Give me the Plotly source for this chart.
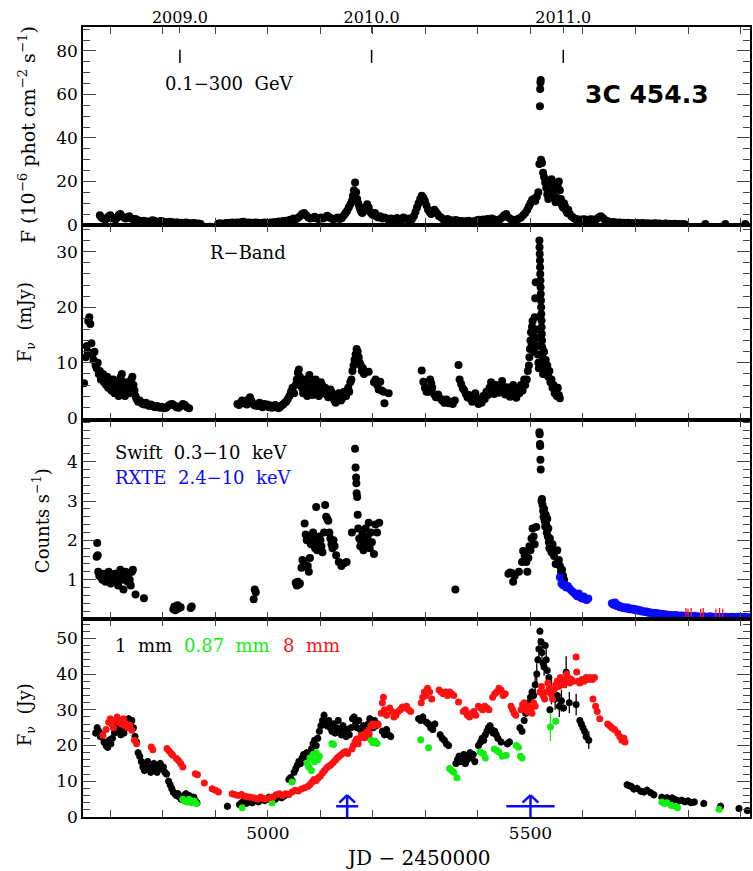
import plotly.graph_objects as go

# ---------------- data ----------------
# x-axis ticks (JD - 2450000)
x_major_tick0 = 5000
x_major_step = 500
x_minor_step = 100
year_jd = [4832.5, 5197.5, 5562.5]
year_labels = ["2009.0", "2010.0", "2011.0"]

# Panel 1: Fermi 0.1-300 GeV flux (1e-6 phot cm-2 s-1)
gam_jd = [4680, 4683, 4686, 4690, 4694, 4697, 4700, 4703, 4706, 4710, 4713, 4716, 4719, 4722, 4726, 4729, 4733, 4736,
          4740, 4744, 4748, 4752, 4756, 4760, 4764, 4768, 4772, 4776, 4780, 4784, 4788, 4792, 4796, 4800, 4804, 4808,
          4812, 4816, 4820, 4824, 4828, 4832, 4836, 4840, 4844, 4848, 4852, 4856, 4860, 4864, 4868, 4872,
          4905, 4909, 4913, 4917, 4921, 4925, 4929, 4933, 4937, 4941, 4945, 4949, 4953, 4957, 4961, 4965, 4969, 4973,
          4977, 4981, 4985, 4989, 4993, 4997, 5001, 5005, 5009, 5013, 5017, 5021, 5025, 5029, 5033, 5037, 5041, 5045,
          5049, 5053, 5057, 5061, 5065, 5069, 5073, 5077, 5081, 5085, 5089, 5093, 5097, 5101, 5105, 5109, 5113, 5117,
          5121, 5125, 5129, 5133, 5137, 5141, 5145, 5148, 5151, 5154, 5157, 5160, 5162, 5164, 5166, 5168, 5170, 5172,
          5174, 5176, 5178, 5180, 5183, 5186, 5189, 5192, 5195, 5198, 5201, 5204, 5207, 5210, 5214, 5218, 5222, 5226,
          5230, 5234, 5238, 5242, 5246, 5250, 5254, 5258, 5262, 5266, 5270, 5274, 5278, 5281, 5284, 5287, 5290, 5293,
          5296, 5299, 5302, 5305, 5308, 5311, 5314, 5317, 5320, 5323, 5326, 5330, 5334, 5338, 5342, 5346, 5350, 5354,
          5358, 5362, 5366, 5370, 5374, 5378, 5382, 5386, 5390, 5394, 5398, 5402, 5406, 5410, 5414, 5418, 5422, 5426,
          5430, 5434, 5438, 5442, 5446, 5450, 5454, 5458, 5462, 5466, 5470, 5474, 5478, 5482, 5486, 5490, 5494, 5497,
          5500, 5503, 5506, 5509, 5512, 5515, 5517, 5518, 5518.5, 5519, 5519.5, 5520, 5522, 5524, 5526, 5528, 5530, 5532,
          5534, 5536, 5538, 5540, 5542, 5544, 5546, 5548, 5550, 5552, 5554, 5556, 5558, 5560, 5562, 5564, 5566, 5568,
          5570, 5572, 5575, 5578, 5581, 5584, 5587, 5590, 5594, 5598, 5602, 5606, 5610, 5614, 5618, 5622, 5626, 5630,
          5634, 5638, 5642, 5646, 5650, 5654, 5658, 5662, 5666, 5670, 5674, 5678, 5682, 5686, 5690, 5694, 5698, 5702,
          5706, 5710, 5714, 5718, 5722, 5726, 5730, 5734, 5738, 5742, 5746, 5750, 5754, 5758, 5762, 5766, 5770, 5774,
          5778, 5782, 5786, 5790, 5794, 5833, 5871, 5909]
gam_flux = [4.5, 3.5, 3.0, 2.5, 3.0, 4.0, 4.5, 3.5, 3.0, 2.5, 3.5, 4.5, 5.0, 4.0, 3.5, 3.0, 3.5, 4.0,
            3.0, 2.5, 2.8, 2.2, 2.0, 1.8, 2.0, 1.5, 1.6, 1.3, 2.2, 2.0, 1.5, 1.4, 1.8, 1.6, 1.3, 1.2,
            1.5, 1.4, 1.0, 1.2, 1.1, 0.9, 1.0, 0.8, 1.1, 0.9, 0.8, 0.7, 0.9, 0.6, 0.7, 0.5,
            0.6, 0.8, 0.5, 0.7, 0.9, 0.8, 1.0, 1.1, 0.9, 1.2, 1.0, 1.3, 1.5, 1.2, 1.0, 1.1, 0.9, 1.0,
            1.2, 1.0, 0.8, 0.9, 1.1, 1.0, 0.9, 1.2, 1.1, 1.3, 1.4, 1.6, 1.3, 1.8, 2.0, 1.7, 2.3, 2.5,
            3.0, 2.6, 3.2, 4.0, 5.0, 5.5, 4.5, 3.5, 3.0, 3.2, 3.8, 3.0, 2.8, 3.4, 3.0, 3.5, 4.2, 3.6,
            3.0, 2.6, 3.0, 3.5, 2.8, 3.2, 4.5, 5.5, 6.5, 8.0, 9.5, 11.0, 13.5, 16.0, 19.5, 15.0, 12.0, 10.0,
            8.5, 7.0, 6.0, 5.5, 6.5, 8.0, 9.5, 8.0, 6.0, 5.0, 4.5, 5.5, 4.0, 3.5, 4.0, 3.0, 3.5, 3.0,
            2.5, 3.0, 2.8, 2.5, 3.2, 2.6, 2.4, 3.5, 3.0, 2.7, 3.0, 2.5, 4.0, 6.0, 8.0, 10.0, 12.0, 13.5,
            12.5, 11.0, 9.0, 7.0, 6.0, 5.0, 6.0, 7.0, 6.0, 5.0, 4.0, 3.5, 2.5, 2.2, 2.8, 2.0, 2.2, 1.8,
            2.3, 2.0, 1.6, 1.8, 1.5, 1.7, 2.0, 1.6, 1.5, 1.8, 2.2, 2.4, 2.0, 2.5, 2.2, 2.8, 2.4, 3.0,
            2.6, 2.0, 2.2, 2.6, 3.5, 4.5, 5.0, 3.5, 2.8, 2.4, 2.0, 2.5, 3.0, 3.5, 4.5, 5.5, 7.0, 8.5,
            10.0, 11.5, 12.0, 11.0, 13.0, 15.0, 28.0, 54.6, 62.5, 65.5, 66.6, 30.0, 28.5, 24.0, 22.0, 19.5, 17.0, 14.0,
            12.0, 15.0, 18.0, 21.0, 19.0, 16.0, 13.0, 10.5, 12.5, 17.5, 20.0, 16.0, 12.0, 9.0, 8.0, 10.0, 8.5, 6.5,
            5.5, 7.0, 5.0, 4.0, 3.5, 3.0, 2.5, 2.7, 2.3, 2.5, 2.6, 2.4, 2.2, 2.6, 2.5, 2.3, 2.8, 3.5,
            4.0, 3.2, 2.3, 1.8, 1.5, 1.2, 1.4, 1.1, 1.0, 1.2, 0.9, 1.0, 0.8, 1.0, 0.9, 0.8, 0.7, 0.9,
            0.8, 0.7, 0.9, 0.6, 0.8, 0.7, 0.6, 0.7, 0.8, 0.6, 0.7, 0.5, 0.6, 0.7, 0.5, 0.6, 0.5, 0.6,
            0.5, 0.5, 0.4, 0.5, 0.4, 0.5, 0.5, 0.5]
gam_ul_jd = [4878, 4884, 4890, 4896]
gam_ul_flux = [0.5, 0.4, 0.5, 0.2]
gam_ul2_jd = [5785, 5800, 5815, 5830, 5845, 5860, 5875, 5890, 5905, 5918]
gam_ul2_flux = [0.4, 0.4, 0.4, 0.4, 0.4, 0.4, 0.4, 0.4, 0.4, 0.4]

# Panel 2: R-band flux density (mJy)
r_jd = [4650, 4653, 4655, 4657, 4658, 4660, 4662, 4664, 4666, 4668, 4670, 4672, 4674, 4676, 4678, 4680, 4682, 4684,
        4686, 4688, 4690, 4692, 4694, 4696, 4698, 4700, 4702, 4704, 4706, 4708, 4710, 4712, 4714, 4716, 4718, 4720,
        4722, 4724, 4726, 4728, 4730, 4732, 4734, 4736, 4738, 4740, 4742, 4744, 4746, 4748, 4750, 4753, 4756, 4759,
        4762, 4765, 4768, 4771, 4774, 4777, 4780, 4783, 4786, 4789, 4792, 4795, 4798, 4802, 4806, 4810, 4814, 4818,
        4822, 4826, 4830, 4834, 4838, 4842, 4846, 4850,
        4942, 4945, 4948, 4951, 4954, 4957, 4960, 4963, 4966, 4969, 4972, 4975, 4978, 4981, 4984, 4987, 4990, 4993,
        4996, 4999, 5002, 5005, 5008, 5011, 5014, 5017, 5020, 5023, 5026, 5029, 5032, 5035, 5038, 5041, 5044, 5047,
        5050, 5053, 5055, 5057, 5059, 5061, 5063, 5065, 5067, 5069, 5071, 5073, 5075, 5077, 5079, 5081, 5083, 5085,
        5087, 5089, 5091, 5093, 5095, 5097, 5099, 5101, 5103, 5105, 5107, 5109, 5111, 5113, 5115, 5117, 5119, 5121,
        5123, 5125, 5127, 5129, 5131, 5133, 5135, 5137, 5139, 5141, 5143, 5145, 5147, 5149, 5151, 5153, 5155, 5157,
        5159, 5161, 5163, 5165, 5167, 5169, 5171, 5173, 5175, 5177, 5179, 5181, 5183, 5192, 5202, 5205, 5208, 5211,
        5214, 5217, 5220, 5222, 5230,
        5293, 5296, 5299, 5302, 5306, 5309, 5311, 5313, 5317, 5320, 5324, 5328, 5332, 5336, 5340, 5344, 5348, 5352,
        5356, 5363, 5365, 5368, 5371, 5374, 5377, 5380, 5383, 5386, 5389, 5392, 5395, 5398, 5401, 5404, 5407, 5410,
        5413, 5416, 5419, 5422, 5425, 5428, 5431, 5434, 5437, 5440, 5443, 5446, 5449, 5452, 5455, 5458, 5461, 5464,
        5467, 5470, 5473, 5476, 5479, 5482, 5485, 5488, 5490, 5493, 5495, 5497, 5498, 5499, 5500, 5501, 5502, 5503,
        5504, 5505, 5506, 5507, 5508, 5509, 5510, 5511, 5512, 5513, 5514, 5515, 5516,
        5517, 5517.3, 5517.6, 5518, 5518.3, 5518.6, 5519, 5519.3, 5519.6, 5520, 5520.3, 5520.6, 5521, 5521.3, 5521.6,
        5522, 5522.3, 5522.6, 5523, 5523.5, 5524, 5525, 5526, 5527, 5528, 5529, 5530, 5532, 5534, 5536, 5538, 5540,
        5542, 5544, 5546, 5548, 5550, 5552, 5554, 5556]
r_flux = [6.3, 11.0, 13.0, 12.0, 17.5, 18.2, 17.0, 13.5, 11.5, 10.5, 12.0, 9.5, 9.0, 10.0, 8.0, 8.5, 7.0, 7.5,
          8.0, 6.5, 7.0, 6.0, 7.5, 5.5, 6.5, 7.0, 5.0, 6.0, 7.0, 4.5, 5.5, 6.5, 5.0, 4.0, 6.0, 7.5,
          8.0, 6.5, 5.0, 4.0, 5.5, 6.5, 5.0, 4.5, 6.0, 7.0, 7.5, 6.0, 5.0, 4.0, 3.5, 3.0, 3.2, 2.8,
          2.6, 2.5, 2.8, 2.4, 2.2, 2.5, 2.3, 2.1, 2.0, 2.2, 2.0, 1.9, 2.1, 1.8, 1.9, 2.2, 2.5, 2.6,
          2.3, 2.0, 1.9, 2.2, 2.6, 2.4, 2.0, 1.8,
          2.6, 2.4, 2.8, 3.2, 2.7, 3.0, 2.5, 3.4, 3.8, 3.1, 2.6, 2.3, 2.5, 2.2, 2.8, 2.4, 2.0, 2.6,
          2.2, 2.5, 2.0, 2.3, 1.9, 2.1, 2.4, 2.1, 1.8, 2.0, 2.3, 2.5, 2.8, 3.0, 3.5, 4.0, 4.8, 5.5,
          4.5, 6.0, 7.0, 8.2, 8.8, 7.5, 6.5, 5.5, 4.5, 6.0, 7.0, 5.0, 4.0, 6.5, 7.8, 6.0, 5.0, 4.2,
          5.5, 6.8, 7.0, 5.8, 4.8, 4.0, 5.5, 6.5, 6.0, 5.0, 4.5, 5.5, 5.0, 4.2, 3.8, 4.5, 5.2, 4.8,
          4.0, 3.6, 3.2, 2.8, 3.5, 4.0, 4.5, 3.8, 3.2, 3.5, 4.2, 4.8, 4.5, 4.0, 5.0, 5.5, 4.8, 6.5,
          7.0, 8.5, 9.5, 10.5, 11.5, 12.5, 12.0, 11.0, 10.0, 9.5, 8.5, 9.0, 8.0, 8.4, 6.5, 7.0, 6.0, 5.2,
          6.6, 5.0, 4.8, 2.7, 4.5,
          8.6, 6.6, 5.5, 4.8, 4.8, 7.0, 6.3, 5.5, 4.3, 3.8, 4.3, 3.6, 3.2, 2.8, 3.4, 2.7, 3.0, 2.6,
          3.2, 9.6, 7.0, 6.2, 5.4, 5.0, 4.4, 3.8, 4.2, 3.5, 3.0, 3.6, 4.5, 3.2, 2.6, 3.4, 2.8, 4.0,
          3.5, 4.8, 4.2, 5.5, 6.5, 5.0, 4.4, 6.0, 5.2, 4.6, 5.8, 6.7, 5.0, 4.3, 5.6, 4.8, 3.9, 5.3,
          6.0, 4.6, 3.7, 5.2, 4.5, 6.0, 5.0, 7.0, 6.0, 7.0, 8.5, 9.5, 11.0, 12.5, 14.0, 15.5, 13.0, 16.5,
          17.5, 15.0, 13.5, 12.0, 18.2, 21.6, 24.5, 16.0, 14.5, 13.0, 11.5, 10.0, 9.0,
          32.0, 30.8, 29.6, 28.4, 27.2, 26.0, 24.8, 23.6, 22.4, 21.2, 20.0, 18.8, 17.6, 16.4, 15.2,
          14.0, 12.8, 11.6, 10.4, 9.2, 8.0, 10.5, 12.0, 9.5, 8.0, 10.5, 8.0, 9.5, 7.5, 8.5, 6.5, 7.0,
          5.5, 6.0, 4.5, 5.0, 4.0, 5.5, 4.2, 3.6]

# Panel 3: X-ray count rates
swift_jd = [4674, 4675, 4676, 4677, 4679, 4681, 4683, 4685, 4687, 4689, 4691, 4693, 4695, 4697, 4699, 4701, 4703,
            4705, 4707, 4709, 4711, 4713, 4715, 4717, 4719, 4721, 4723, 4725, 4727, 4729, 4731, 4733, 4735, 4737,
            4739, 4741, 4743, 4748, 4764, 4820, 4822, 4824, 4826, 4828, 4830, 4834, 4853, 4855, 4973, 4975, 4977,
            5053, 5055, 5057, 5059, 5061, 5064, 5066, 5068, 5070, 5072, 5074, 5076, 5078, 5080, 5082, 5084, 5086,
            5088, 5090, 5092, 5094, 5096, 5098, 5100, 5102, 5104, 5107, 5109, 5111, 5113, 5115, 5117, 5119, 5121,
            5123, 5125, 5127, 5130, 5135, 5140, 5145, 5150, 5160, 5166, 5167, 5168, 5168.5, 5169, 5170, 5171, 5172,
            5174, 5176, 5178, 5180, 5182, 5184, 5186, 5188, 5190, 5192, 5194, 5196, 5198, 5202, 5205, 5208, 5212,
            5357, 5458, 5461, 5464, 5467, 5470, 5478, 5484, 5486, 5489, 5492, 5494, 5496, 5498, 5500, 5502, 5504,
            5506, 5508, 5511, 5517, 5517.5, 5518, 5518.5, 5519, 5519.5, 5521, 5522, 5523, 5524, 5525, 5526, 5527,
            5528, 5529, 5530, 5531, 5532, 5533, 5534, 5535, 5536, 5537, 5538, 5540, 5542, 5545, 5548, 5551, 5554,
            5556, 5558, 5560, 5562, 5564]
swift_rate = [1.58, 1.93, 1.62, 1.20, 1.10, 1.15, 1.05, 1.00, 1.15, 1.05, 0.95, 1.10, 1.00, 1.20, 1.05, 0.90, 1.10,
              1.00, 0.95, 1.15, 1.05, 1.00, 0.85, 1.10, 1.25, 1.15, 1.00, 0.75, 1.05, 1.20, 1.10, 0.95, 1.15,
              1.00, 0.85, 1.20, 1.25, 0.62, 0.53, 0.25, 0.32, 0.22, 0.30, 0.35, 0.27, 0.30, 0.28, 0.32, 0.50, 0.75, 0.68,
              0.92, 0.85, 0.95, 0.88, 0.90, 1.30, 1.50, 1.45, 2.43, 2.15, 2.00, 1.35, 1.20, 1.55, 1.90, 2.10, 2.20,
              2.05, 1.80, 2.85, 1.75, 1.95, 2.10, 2.00, 1.85, 1.70, 2.20, 2.90, 2.60, 2.55, 2.50, 2.20, 2.05, 1.90,
              1.80, 2.00, 1.85, 1.62, 1.45, 1.35, 1.42, 1.45, 2.20, 4.33, 3.85, 3.60, 3.45, 3.20, 3.10, 2.65, 2.30,
              2.05, 1.85, 1.95, 2.15, 1.75, 2.00, 2.30, 1.90, 2.10, 2.45, 1.80, 2.20, 1.95, 1.65, 2.40, 2.20, 2.45,
              0.75, 1.15, 1.18, 1.17, 0.95, 1.10, 1.20, 1.45, 1.73, 1.60, 1.45, 1.20, 1.55, 1.85, 1.75, 2.05, 2.30,
              2.10, 1.90, 2.34, 4.75, 4.70, 4.45, 4.40, 4.05, 3.80, 3.00, 3.05, 2.90, 2.75, 2.60, 2.80, 2.50,
              2.35, 2.65, 2.40, 2.20, 2.55, 2.10, 2.30, 1.95, 1.80, 2.05, 1.85, 1.70, 1.90, 1.60, 1.40, 1.75, 1.50, 1.35,
              1.20, 1.25, 1.10, 1.00, 0.95]
rxte_jd = [5556, 5559, 5562, 5565, 5568, 5571, 5574, 5577, 5580, 5583, 5586, 5589, 5592, 5595, 5598, 5601, 5604, 5607,
           5610, 5655, 5658, 5661, 5664, 5667, 5670, 5673, 5676, 5679, 5682, 5685, 5688, 5691, 5694, 5697, 5700, 5703,
           5706, 5709, 5712, 5715, 5718, 5721, 5724, 5727, 5730, 5733, 5736, 5739, 5742, 5745, 5748, 5751, 5754, 5757,
           5760, 5764, 5768, 5772, 5776, 5780, 5784, 5788, 5792, 5796, 5800, 5806, 5812, 5818, 5824, 5830, 5836, 5842,
           5848, 5854, 5860, 5866, 5872, 5878, 5884, 5890, 5896, 5902, 5908, 5914]
rxte_rate = [1.06, 0.90, 0.86, 0.88, 0.80, 0.84, 0.78, 0.74, 0.70, 0.66, 0.62, 0.58, 0.65, 0.55, 0.52, 0.57, 0.50, 0.48,
             0.52, 0.40, 0.36, 0.42, 0.33, 0.35, 0.30, 0.32, 0.28, 0.30, 0.27, 0.29, 0.25, 0.27, 0.24, 0.26, 0.22, 0.24,
             0.21, 0.22, 0.19, 0.20, 0.18, 0.19, 0.16, 0.17, 0.15, 0.16, 0.14, 0.15, 0.13, 0.14, 0.12, 0.13, 0.11, 0.12,
             0.10, 0.11, 0.10, 0.09, 0.10, 0.09, 0.08, 0.09, 0.08, 0.07, 0.08, 0.07, 0.08, 0.07, 0.06, 0.07, 0.06, 0.07,
             0.06, 0.05, 0.06, 0.05, 0.06, 0.05, 0.06, 0.05, 0.06, 0.05, 0.06, 0.05]
xul_jd = [5796, 5800, 5806, 5824, 5829, 5853, 5860, 5866]
xul_rate = [0.12, 0.10, 0.12, 0.10, 0.12, 0.10, 0.12, 0.10]

# Panel 4: mm fluxes (Jy)
mm1_jd = [4672, 4675, 4678, 4681, 4684, 4688, 4692, 4695, 4698, 4701, 4704, 4708, 4711, 4714, 4717, 4720, 4723, 4726,
          4729, 4732, 4735, 4738, 4741, 4744, 4747, 4750, 4753, 4756, 4759, 4762, 4765, 4768, 4771, 4774, 4777, 4780,
          4783, 4786, 4789, 4792, 4795, 4798, 4801, 4804, 4807, 4811, 4814, 4817, 4820, 4823, 4826, 4829, 4832, 4835,
          4838, 4841, 4844, 4847, 4850, 4853, 4856, 4859, 4862, 4865, 4923, 4946, 4950, 4954, 4958, 4962, 4966, 4970,
          4974, 4978, 4982, 4986, 4990, 4994, 4998, 5002, 5006, 5010, 5014, 5018, 5022, 5026, 5030, 5034, 5040, 5043,
          5046, 5050, 5053, 5056, 5059, 5062, 5065, 5068, 5071, 5074, 5077, 5080, 5083, 5086, 5089, 5092, 5095, 5098,
          5101, 5104, 5107, 5110, 5113, 5116, 5119, 5122, 5125, 5128, 5131, 5134, 5137, 5140, 5143, 5146, 5149, 5152,
          5155, 5158, 5161, 5164, 5167, 5170, 5173, 5176, 5179, 5182, 5185, 5188, 5191, 5194, 5197, 5200, 5203, 5206,
          5209, 5218, 5222, 5226, 5230, 5234, 5287, 5291, 5295, 5302, 5306, 5310, 5314, 5318, 5328, 5332, 5336, 5340,
          5344, 5358, 5361, 5364, 5367, 5370, 5373, 5376, 5379, 5382, 5385, 5388, 5391, 5394, 5401, 5405, 5408, 5411,
          5414, 5417, 5420, 5423, 5426, 5429, 5432, 5435, 5438, 5444, 5456, 5460, 5480, 5484, 5488, 5491, 5494, 5497,
          5500, 5503, 5506, 5509, 5512, 5514, 5516, 5518, 5520, 5522, 5524, 5526, 5528, 5530, 5532, 5535, 5537, 5540,
          5547, 5551, 5555, 5559, 5563, 5568, 5574, 5587, 5594, 5597, 5600, 5603, 5606, 5611, 5684, 5688, 5692, 5697,
          5703, 5710, 5716, 5722, 5729, 5735, 5750, 5755, 5760, 5765, 5770, 5776, 5782, 5788, 5794, 5800, 5806, 5812,
          5830, 5862, 5897, 5913]
mm1_flux = [23.5, 25.0, 24.0, 22.5, 23.0, 21.0, 20.0, 19.5, 21.5, 20.5, 22.0, 23.5, 24.5, 25.5, 24.0, 23.0, 25.0, 23.5,
            26.0, 27.0, 27.5, 26.5, 27.0, 25.0, 22.5, 21.0, 18.0, 17.0, 15.5, 14.0, 13.0, 14.5, 15.5, 13.5, 12.5, 14.0,
            15.0, 13.0, 12.5, 14.5, 15.0, 13.5, 14.0, 12.5, 12.0, 10.0, 9.0, 8.0, 7.0, 6.5, 6.0, 6.5, 5.5, 5.0,
            5.5, 6.0, 6.5, 5.5, 6.0, 5.0, 4.5, 5.5, 4.5, 4.0, 3.0, 3.5, 4.0, 4.5, 3.8, 4.2, 4.8, 4.0,
            4.5, 5.0, 4.3, 4.8, 5.2, 4.6, 5.0, 5.5, 4.8, 5.3, 5.0, 5.6, 6.0, 5.4, 5.8, 6.2, 10.5, 11.0,
            10.2, 12.5, 13.5, 14.5, 15.5, 15.0, 16.5, 17.5, 17.0, 18.0, 16.8, 17.5, 19.0, 20.5, 21.5, 20.0, 22.0, 24.0,
            25.5, 27.0, 28.5, 26.5, 25.5, 27.0, 25.0, 24.0, 26.0, 23.5, 25.0, 27.0, 24.5, 23.0, 25.5, 24.0, 22.5, 24.5,
            23.0, 25.0, 27.5, 28.0, 26.0, 25.0, 27.0, 24.5, 23.0, 25.5, 24.0, 22.5, 26.0, 27.5, 26.5, 25.0, 27.0, 25.5,
            26.0, 24.0, 23.0, 24.5, 23.0, 22.5, 27.5, 27.0, 28.0, 26.5, 26.0, 25.0, 24.5, 26.0, 23.0, 22.0, 21.5, 20.5,
            20.0, 15.0, 16.0, 17.0, 15.5, 16.5, 17.5, 15.0, 16.0, 17.0, 18.0, 16.5, 17.5, 15.5, 20.0, 21.0, 22.0, 21.5,
            23.0, 24.0, 25.0, 25.5, 24.5, 23.5, 24.0, 23.0, 22.0, 21.0, 20.5, 21.0, 25.0, 24.0, 27.0, 29.0, 30.5, 32.0,
            33.5, 35.0, 34.0, 37.0, 40.0, 44.0, 47.0, 52.0, 49.0, 46.0, 43.0, 42.0, 48.0, 44.0, 41.0, 39.0, 30.0, 35.0,
            33.0, 34.0, 31.0, 32.5, 30.5, 40.5, 32.0, 31.5, 27.0, 26.0, 25.0, 24.0, 22.5, 21.5, 9.0, 8.8, 8.5, 7.8,
            8.0, 7.2, 7.0, 7.5, 6.8, 6.2, 5.5, 5.2, 5.4, 5.0, 5.3, 4.8, 4.5, 4.7, 4.3, 4.5, 4.0, 4.2,
            3.8, 3.0, 2.4, 1.8]
mm1_big_err = {5509: 2.5, 5512: 3.0, 5516: 3.0, 5522: 3.0, 5526: 2.5, 5530: 3.0, 5540: 3.5, 5547: 3.0, 5555: 3.0,
               5559: 3.0, 5568: 4.5, 5574: 3.0, 5587: 3.0, 5611: 2.5}
mm1_err = [mm1_big_err.get(j, 1.0) for j in mm1_jd]

mm087_jd = [4838, 4842, 4846, 4850, 4855, 4860, 4864, 4951, 5008, 5046, 5075, 5078, 5080, 5083, 5086, 5089, 5092, 5095,
            5098, 5122, 5125, 5196, 5200, 5204, 5208, 5291, 5306, 5346, 5350, 5354, 5360, 5404, 5410, 5414, 5431, 5436,
            5440, 5446, 5454, 5473, 5477, 5481, 5484, 5538, 5548, 5750, 5755, 5760, 5768, 5776, 5780, 5859]
mm087_flux = [5.0, 4.5, 4.2, 5.0, 4.0, 4.5, 3.8, 2.6, 3.9, 9.8, 15.0, 14.0, 16.5, 13.0, 17.5, 15.5, 18.0, 16.0,
              17.0, 20.6, 20.3, 21.6, 20.8, 21.2, 20.6, 21.6, 19.4, 13.6, 13.0, 12.5, 11.0, 18.2, 17.8, 16.5, 19.0, 18.6,
              18.2, 17.0, 17.3, 20.0, 19.5, 17.0, 16.5, 25.2, 26.8, 4.2, 3.8, 4.0, 3.2, 3.0, 2.6, 2.2]
mm087_err = [0.5] * 43 + [4.0, 1.0] + [0.5] * 7

mm8_jd = [4686, 4692, 4697, 4700, 4703, 4706, 4710, 4713, 4716, 4719, 4722, 4725, 4728, 4731, 4734, 4737, 4741, 4746,
          4750, 4778, 4781, 4808, 4812, 4816, 4819, 4826, 4830, 4834, 4838, 4862, 4866, 4879, 4894, 4900, 4906, 4932,
          4938, 4944, 4950, 4956, 4962, 4968, 4974, 4980, 4986, 4990, 4996, 5003, 5010, 5016, 5022, 5028, 5034, 5040,
          5046, 5052, 5058, 5064, 5070, 5076, 5080, 5084, 5088, 5092, 5096, 5100, 5104, 5108, 5112, 5116, 5120, 5124,
          5128, 5132, 5136, 5140, 5144, 5148, 5152, 5160, 5163, 5166, 5169, 5172, 5175, 5178, 5181, 5184, 5187, 5190,
          5193, 5196, 5199, 5202, 5206, 5210, 5216, 5218, 5220, 5222, 5226, 5232, 5236, 5240, 5244, 5248, 5252, 5256,
          5260, 5264, 5268, 5272, 5292, 5295, 5298, 5301, 5304, 5308, 5312, 5326, 5330, 5334, 5338, 5342, 5346, 5350,
          5354, 5363, 5372, 5376, 5380, 5384, 5388, 5392, 5396, 5401, 5405, 5409, 5413, 5417, 5421, 5428, 5432, 5436,
          5440, 5444, 5448, 5452, 5463, 5466, 5469, 5472, 5482, 5485, 5488, 5491, 5494, 5497, 5500, 5503, 5506, 5509,
          5518, 5521, 5524, 5527, 5530, 5533, 5536, 5539, 5542, 5545, 5548, 5551, 5554, 5557, 5560, 5563, 5566, 5569,
          5572, 5575, 5578, 5581, 5587, 5588, 5590, 5594, 5598, 5602, 5606, 5610, 5614, 5618, 5622, 5619, 5624, 5627,
          5632, 5647, 5651, 5655, 5660, 5666, 5670, 5674, 5678, 5680]
mm8_flux = [22.9, 24.5, 26.5, 27.5, 26.0, 25.0, 27.0, 28.0, 26.5, 27.0, 26.0, 27.5, 25.5, 26.0, 25.0, 25.7, 24.3, 21.5,
            20.5, 19.6, 18.8, 19.2, 18.5, 17.8, 17.3, 16.4, 15.8, 15.0, 14.0, 12.1, 11.8, 9.5, 7.9, 7.5, 7.0, 6.5,
            6.2, 6.0, 6.3, 5.8, 5.6, 5.5, 5.3, 5.0, 5.6, 5.2, 5.0, 5.4, 5.6, 6.2, 6.5, 6.0, 6.5, 6.3,
            7.0, 7.5, 7.3, 7.8, 8.2, 8.5, 9.0, 9.8, 10.5, 10.2, 11.0, 11.5, 12.3, 13.0, 13.8, 14.2, 14.6, 15.2,
            15.8, 16.5, 17.0, 17.5, 18.0, 18.3, 17.8, 19.0, 20.0, 21.0, 21.8, 20.5, 22.0, 22.8, 23.0, 22.2, 23.5, 24.0,
            23.2, 25.5, 26.0, 25.5, 26.0, 25.8, 29.0, 32.0, 33.5, 30.0, 28.5, 30.5, 29.5, 28.0, 28.5, 29.5, 30.0, 30.8,
            30.5, 31.0, 30.0, 29.5, 32.0, 33.5, 35.0, 34.0, 36.0, 35.0, 33.0, 35.5, 35.0, 34.5, 35.0, 34.0, 35.0, 34.5,
            34.0, 32.2, 29.5, 30.0, 28.5, 28.0, 29.0, 29.5, 28.5, 31.0, 30.5, 30.0, 31.0, 30.5, 30.0, 33.5, 34.5, 35.0,
            36.0, 35.5, 34.0, 34.5, 31.0, 30.0, 29.0, 28.5, 30.0, 31.5, 32.0, 30.5, 29.5, 31.0, 30.0, 29.0, 32.0, 31.0,
            35.0, 36.5, 34.0, 33.0, 35.0, 37.5, 36.0, 34.5, 33.0, 35.5, 37.0, 38.0, 36.5, 39.0, 38.0, 37.0, 38.5, 40.0,
            39.0, 37.5, 38.5, 38.0, 44.8, 40.6, 38.0, 37.5, 38.5, 38.0, 39.0, 38.5, 39.0, 38.5, 39.0, 33.0, 31.0, 29.5,
            27.5, 26.0, 25.5, 25.0, 24.5, 23.5, 22.5, 21.5, 22.0, 21.0]

# Campaign markers (blue arrows) in panel 4
arrow_jd = [5151, 5500]
arrow_halfwidth = [21, 46]

# ---------------- figure ----------------
BLACK = "#000000"
GREEN = "#11ee11"
RED = "#ff1111"
BLUE = "#0a0aff"
FONT = "DejaVu Serif"
W, H = 753, 871
ML, MR, MT, MB = 83, 1, 27, 54
PW, PH = W - ML - MR, H - MT - MB


def py(pix):
    """pixel row -> paper y"""
    return (H - MB - pix) / PH


def px(pix):
    return (pix - ML) / PW


fig = go.Figure()


def sc(x, y, ax, color, size=8, **kw):
    fig.add_trace(go.Scatter(x=x, y=y, mode="markers", xaxis=ax[0], yaxis=ax[1],
                             marker=dict(size=size, color=color, line=dict(width=0)),
                             showlegend=False, hoverinfo="skip", **kw))


# panel 1
fig.add_trace(go.Scatter(x=gam_ul2_jd, y=gam_ul2_flux, mode="lines+markers", xaxis="x", yaxis="y",
                         line=dict(color=RED, width=1.3, dash="dash"), marker=dict(size=3, color=RED),
                         showlegend=False, hoverinfo="skip"))
sc(gam_jd, gam_flux, ("x", "y"), BLACK)
sc(gam_ul_jd, gam_ul_flux, ("x", "y"), RED, size=3)

# year marks (top axis)
yx, yy = [], []
for j in year_jd:
    yx += [j, j, None]
    yy += [74.5, 80.5, None]
fig.add_trace(go.Scatter(x=yx, y=yy, mode="lines", xaxis="x5", yaxis="y",
                         line=dict(color=BLACK, width=1.5), showlegend=False, hoverinfo="skip"))

# panel 2
sc(r_jd, r_flux, ("x2", "y2"), BLACK)

# panel 3
sc(swift_jd, swift_rate, ("x3", "y3"), BLACK)
sc(rxte_jd, rxte_rate, ("x3", "y3"), BLUE)
fig.add_trace(go.Scatter(x=xul_jd, y=xul_rate, mode="markers", xaxis="x3", yaxis="y3",
                         marker=dict(symbol="line-ns-open", size=9, color=RED, line=dict(color=RED, width=1.3)),
                         showlegend=False, hoverinfo="skip"))

# panel 4
sc(mm1_jd, mm1_flux, ("x4", "y4"), BLACK, size=7,
   error_y=dict(type="data", array=mm1_err, color=BLACK, thickness=1.3, width=0))
sc(mm087_jd, mm087_flux, ("x4", "y4"), GREEN, size=7,
   error_y=dict(type="data", array=mm087_err, color=GREEN, thickness=1.3, width=0))
sc(mm8_jd, mm8_flux, ("x4", "y4"), RED, size=7)

# arrows
shapes = []
for j, hw in zip(arrow_jd, arrow_halfwidth):
    ln = dict(color=BLUE, width=2.5)
    shapes.append(dict(type="line", xref="x4", yref="y4", x0=j, x1=j, y0=0, y1=6.1, line=ln))
    shapes.append(dict(type="line", xref="x4", yref="y4", x0=j - hw, x1=j + hw, y0=3.0, y1=3.0, line=ln))
    shapes.append(dict(type="line", xref="x4", yref="y4", x0=j - 15, x1=j, y0=4.0, y1=6.1, line=ln))
    shapes.append(dict(type="line", xref="x4", yref="y4", x0=j + 15, x1=j, y0=4.0, y1=6.1, line=ln))

xr = [4648, 5918]
tickfont = dict(family=FONT, size=17, color=BLACK)
common_x = dict(range=xr, tick0=x_major_tick0, dtick=x_major_step, ticks="inside", ticklen=7, tickwidth=1.3,
                minor=dict(dtick=x_minor_step, tick0=x_major_tick0, ticks="inside", ticklen=7, tickwidth=1.3),
                showline=True, linewidth=1.5, linecolor=BLACK, mirror="ticks", showgrid=False, zeroline=False,
                tickfont=tickfont)
common_y = dict(ticks="inside", ticklen=13, tickwidth=1.3, showline=True, linewidth=1.5, linecolor=BLACK,
                mirror="ticks", showgrid=False, zeroline=False, tickfont=tickfont)

d1 = [py(225), 1.0]
d2 = [py(420), py(225)]
d3 = [py(619), py(420)]
d4 = [0.0, py(619)]

layout = dict(
    width=W, height=H, margin=dict(l=ML, r=MR, t=MT, b=MB), paper_bgcolor="white", plot_bgcolor="white",
    font=dict(family=FONT, color=BLACK), showlegend=False, shapes=shapes,
    xaxis=dict(common_x, anchor="y", showticklabels=False),
    xaxis2=dict(common_x, anchor="y2", showticklabels=False),
    xaxis3=dict(common_x, anchor="y3", showticklabels=False),
    xaxis4=dict(common_x, anchor="y4", showticklabels=True),
    xaxis5=dict(range=xr, overlaying="x", anchor="y", side="top", tickvals=year_jd, ticktext=year_labels,
                ticks="inside", ticklen=6, tickwidth=1.3, showline=False, showgrid=False, zeroline=False,
                tickfont=dict(family=FONT, size=16, color=BLACK)),
    yaxis=dict(common_y, domain=d1, anchor="x", range=[0, 91], tickvals=[0, 20, 40, 60, 80],
               minor=dict(dtick=5, ticklen=7, ticks="inside", tickwidth=1.2)),
    yaxis2=dict(common_y, domain=d2, anchor="x2", range=[-0.3, 34.8], tickvals=[0, 10, 20, 30],
                minor=dict(dtick=2, ticklen=7, ticks="inside", tickwidth=1.2)),
    yaxis3=dict(common_y, domain=d3, anchor="x3", range=[0, 5.06], tickvals=[1, 2, 3, 4],
                minor=dict(dtick=0.2, tick0=0, ticklen=7, ticks="inside", tickwidth=1.2)),
    yaxis4=dict(common_y, domain=d4, anchor="x4", range=[0, 55.4], tickvals=[0, 10, 20, 30, 40, 50],
                minor=dict(dtick=2, ticklen=7, ticks="inside", tickwidth=1.2)),
)
fig.update_layout(**layout)

tf = dict(family=FONT, size=18, color=BLACK)
ann = [
    dict(text="F (10<sup>−6</sup> phot cm<sup>−2</sup> s<sup>−1</sup>)", x=px(27), y=py(135), textangle=-90,
         font=dict(family=FONT, size=19, color=BLACK)),
    dict(text="F<sub>ν</sub>  (mJy)", x=px(26), y=py(322), textangle=-90, font=tf),
    dict(text="Counts s<sup>−1</sup>)", x=px(41), y=py(521), textangle=-90, font=tf),
    dict(text="F<sub>ν</sub>  (Jy)", x=px(26), y=py(715), textangle=-90, font=tf),
    dict(text="JD − 2450000", x=px(420), y=py(858), font=dict(family=FONT, size=20, color=BLACK)),
]
for a in ann:
    fig.add_annotation(xref="paper", yref="paper", showarrow=False, xanchor="center", yanchor="middle", **a)

labels = [
    ("0.1−300  GeV", 163, 83, BLACK),
    ("R−Band", 208, 253, BLACK),
    ("Swift  0.3−10  keV", 113, 452, BLACK),
    ("RXTE  2.4−10  keV", 113, 478, BLUE),
    ("1  mm", 113, 645, BLACK),
    ("0.87  mm", 182, 645, GREEN),
    ("8  mm", 282, 645, RED),
]
for t, x0, y0, c in labels:
    fig.add_annotation(xref="paper", yref="paper", x=px(x0), y=py(y0), text=t, showarrow=False,
                       xanchor="left", yanchor="middle", font=dict(family=FONT, size=18, color=c))
fig.add_annotation(xref="paper", yref="paper", x=px(649), y=py(94), text="<b>3C 454.3</b>", showarrow=False,
                   xanchor="center", yanchor="middle", font=dict(family="DejaVu Sans", size=25, color=BLACK))

fig.write_html("out.html")
